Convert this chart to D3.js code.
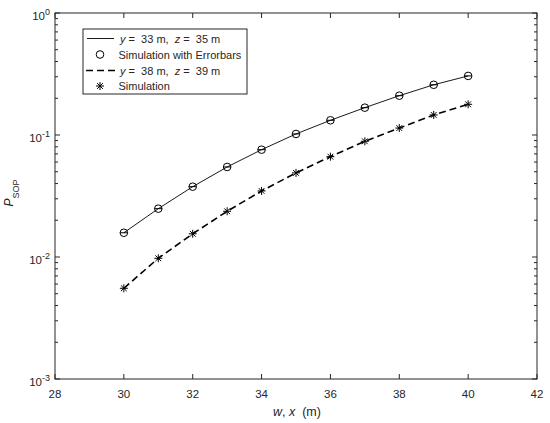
<!DOCTYPE html>
<html>
<head>
<meta charset="UTF-8">
<style>
  body { margin: 0; background: #fff; }
  svg { font-family: "Liberation Sans", Arial, sans-serif; }
</style>
</head>
<body>
<svg id="chart" width="550" height="423"></svg>
<script src="https://d3js.org/d3.v7.min.js"></script>
<script>
// data
const distances = [30, 31, 32, 33, 34, 35, 36, 37, 38, 39, 40];
const sopNear = [0.0158, 0.0249, 0.0377, 0.0547, 0.0758, 0.102, 0.132, 0.1675, 0.210, 0.258, 0.305];
const sopFar = [0.00554, 0.00976, 0.0155, 0.0237, 0.0348, 0.0489, 0.0664, 0.0888, 0.114, 0.146, 0.1785];
const xTicks = [28, 30, 32, 34, 36, 38, 40, 42];
const yExponents = [0, -1, -2, -3];

const ink = "#262626";
const nb = s => s.replace(/ /g, "\u00a0");
const svg = d3.select("#chart");
const plotL = 55, plotR = 537, plotT = 13, plotB = 379;

const x = d3.scaleLinear().domain([28, 42]).range([plotL, plotR]);
const y = d3.scaleLog().domain([1e-3, 1]).range([plotB, plotT]);

// axes box
svg.append("rect")
  .attr("x", plotL).attr("y", plotT)
  .attr("width", plotR - plotL).attr("height", plotB - plotT)
  .attr("fill", "none").attr("stroke", ink).attr("stroke-width", 1);

// x ticks (inward, bottom and top)
const major = 5, minor = 3;
xTicks.forEach(t => {
  svg.append("line").attr("x1", x(t)).attr("x2", x(t))
    .attr("y1", plotB).attr("y2", plotB - major).attr("stroke", ink);
  svg.append("line").attr("x1", x(t)).attr("x2", x(t))
    .attr("y1", plotT).attr("y2", plotT + major).attr("stroke", ink);
  svg.append("text").attr("x", x(t)).attr("y", 397.5)
    .attr("text-anchor", "middle").attr("font-size", 11.5).attr("fill", ink)
    .text(t);
});

// y ticks, major + minor on log axis
yExponents.forEach(e => {
  const v = Math.pow(10, e);
  svg.append("line").attr("x1", plotL).attr("x2", plotL + major)
    .attr("y1", y(v)).attr("y2", y(v)).attr("stroke", ink);
  svg.append("line").attr("x1", plotR).attr("x2", plotR - major)
    .attr("y1", y(v)).attr("y2", y(v)).attr("stroke", ink);
  const lab = svg.append("text").attr("x", 50).attr("y", y(v) + 6.5)
    .attr("text-anchor", "end").attr("font-size", 11.5).attr("fill", ink);
  lab.append("tspan").text("10");
  lab.append("tspan").attr("dy", -5).attr("font-size", 9).text(e === 0 ? "0" : "-" + (-e));
  if (e < 0) {
    for (let k = 2; k <= 9; k++) {
      const m = k * v;
      svg.append("line").attr("x1", plotL).attr("x2", plotL + minor)
        .attr("y1", y(m)).attr("y2", y(m)).attr("stroke", ink);
      svg.append("line").attr("x1", plotR).attr("x2", plotR - minor)
        .attr("y1", y(m)).attr("y2", y(m)).attr("stroke", ink);
    }
  }
});

// axis labels
const xl = svg.append("text").attr("x", 297).attr("y", 416)
  .attr("text-anchor", "middle").attr("font-size", 12.5).attr("fill", ink);
xl.append("tspan").attr("font-style", "italic").text("w");
xl.append("tspan").text(nb(", "));
xl.append("tspan").attr("font-style", "italic").text("x");
xl.append("tspan").text(nb("  (m)"));

const yl = svg.append("text")
  .attr("transform", "translate(13,193) rotate(-90)")
  .attr("text-anchor", "middle").attr("fill", ink);
yl.append("tspan").attr("font-style", "italic").attr("font-size", 12).text("P");
yl.append("tspan").attr("dy", 5.5).attr("font-size", 9).text("SOP");

// series
const line = d3.line().x(d => x(d[0])).y(d => y(d[1]));
const near = distances.map((d, i) => [d, sopNear[i]]);
const far = distances.map((d, i) => [d, sopFar[i]]);

svg.append("path").datum(near).attr("d", line)
  .attr("fill", "none").attr("stroke", "#000").attr("stroke-width", 0.9);
svg.append("path").datum(far).attr("d", line)
  .attr("fill", "none").attr("stroke", "#000").attr("stroke-width", 1.6)
  .attr("stroke-dasharray", "7,4");

function circleMark(g, cx, cy) {
  g.append("circle").attr("cx", cx).attr("cy", cy).attr("r", 3.8)
    .attr("fill", "none").attr("stroke", "#000").attr("stroke-width", 1);
}
function errCap(g, cx, cy) {
  g.append("line").attr("x1", cx - 3.8).attr("x2", cx + 3.8)
    .attr("y1", cy).attr("y2", cy).attr("stroke", "#000").attr("stroke-width", 1);
}
function starMark(g, cx, cy) {
  const s = 4;
  [[-s, 0, s, 0], [0, -s, 0, s], [-s * 0.72, -s * 0.72, s * 0.72, s * 0.72], [-s * 0.72, s * 0.72, s * 0.72, -s * 0.72]]
    .forEach(p => g.append("line")
      .attr("x1", cx + p[0]).attr("y1", cy + p[1]).attr("x2", cx + p[2]).attr("y2", cy + p[3])
      .attr("stroke", "#000").attr("stroke-width", 1));
}

const marks = svg.append("g");
near.forEach(d => { circleMark(marks, x(d[0]), y(d[1])); errCap(marks, x(d[0]), y(d[1])); });
far.forEach(d => starMark(marks, x(d[0]), y(d[1])));

// legend
const lg = svg.append("g");
lg.append("rect").attr("x", 83).attr("y", 29).attr("width", 164).attr("height", 65)
  .attr("fill", "#fff").attr("stroke", ink).attr("stroke-width", 1);
const rows = [38.5, 54.5, 70.5, 86];
lg.append("line").attr("x1", 87).attr("x2", 114).attr("y1", rows[0]).attr("y2", rows[0])
  .attr("stroke", "#000").attr("stroke-width", 0.9);
circleMark(lg, 100, rows[1]);
lg.append("line").attr("x1", 86).attr("x2", 115).attr("y1", rows[2]).attr("y2", rows[2])
  .attr("stroke", "#000").attr("stroke-width", 1.6).attr("stroke-dasharray", "7,4");
starMark(lg, 100, rows[3]);

function legendText(yy, xx, parts) {
  const t = lg.append("text").attr("x", xx).attr("y", yy + 4)
    .attr("font-size", 11).attr("fill", ink);
  parts.forEach(p => t.append("tspan").attr("font-style", p[1] ? "italic" : null).text(nb(p[0])));
}
legendText(rows[0], 120, [["y", 1], [" =  33 m,  ", 0], ["z", 1], [" =  35 m", 0]]);
legendText(rows[1], 118.5, [["Simulation with Errorbars", 0]]);
legendText(rows[2], 120, [["y", 1], [" =  38 m,  ", 0], ["z", 1], [" =  39 m", 0]]);
legendText(rows[3], 118.5, [["Simulation", 0]]);
</script>
</body>
</html>
